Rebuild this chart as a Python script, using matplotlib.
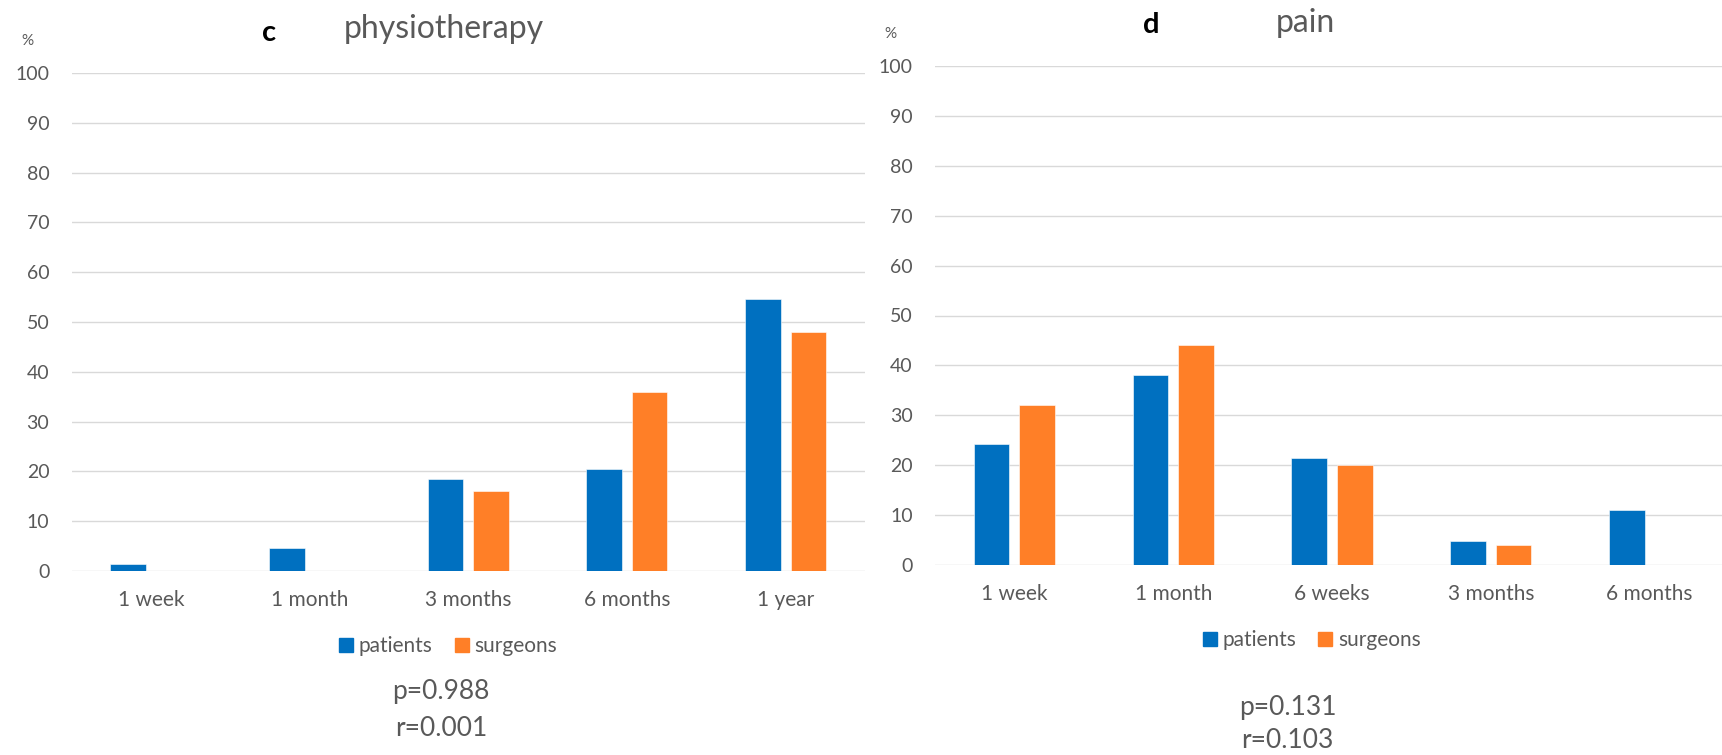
import matplotlib
matplotlib.use('Agg')
import matplotlib.pyplot as plt
import numpy as np
from matplotlib.lines import Line2D

plt.rcParams['font.family'] = ['Lato', 'DejaVu Sans']

# panel c: physiotherapy
physio_labels = ['1 week', '1 month', '3 months', '6 months', '1 year']
physio_patients = [1.5, 4.7, 18.4, 20.4, 54.6]
physio_surgeons = [0, 0, 16, 36, 48]

# panel d: pain
pain_labels = ['1 week', '1 month', '6 weeks', '3 months', '6 months']
pain_patients = [24.2, 38, 21.4, 4.8, 11]
pain_surgeons = [32, 44, 20, 4, 0]

BLUE = '#0070C0'
ORANGE = '#FF7F27'
GRID = '#D9D9D9'
TXT = '#595959'

W, H = 1722, 755
fig = plt.figure(figsize=(W / 100, H / 100), dpi=100)


def px_box(x0, x1, y_top, y_bot):
    # pixel rectangle -> figure fraction
    return [x0 / W, 1 - y_bot / H, (x1 - x0) / W, (y_bot - y_top) / H]


def draw_panel(ax, labels, pat, sur):
    x = np.arange(len(labels))
    bw = 0.224
    off = 0.1435
    ax.bar(x - off, pat, bw, color=BLUE, edgecolor='white', linewidth=0.4, zorder=3)
    ax.bar(x + off, sur, bw, color=ORANGE, edgecolor='white', linewidth=0.4, zorder=3)
    ax.set_xlim(-0.5, len(labels) - 0.5)
    ax.set_ylim(0, 100)
    ax.set_yticks(np.arange(0, 101, 10))
    ax.set_xticks(x)
    ax.set_xticklabels(labels)
    ax.yaxis.grid(True, color=GRID, linewidth=1.0, zorder=0)
    ax.set_axisbelow(True)
    for s in ['top', 'right', 'left', 'bottom']:
        ax.spines[s].set_visible(False)
    ax.tick_params(axis='y', length=0, pad=16, labelsize=14, labelcolor=TXT)
    ax.tick_params(axis='x', length=0, pad=14, labelsize=15, labelcolor=TXT)
    # square legend keys
    handles = [Line2D([], [], marker='s', linestyle='', color=c, markersize=9.5, label=l)
               for c, l in [(BLUE, 'patients'), (ORANGE, 'surgeons')]]
    ax.legend(handles=handles, loc='center', bbox_to_anchor=(0.475, -0.151), ncol=2,
              frameon=False, fontsize=15, labelcolor=TXT, handlelength=0.6,
              handletextpad=0.3, columnspacing=1.1)


ax1 = fig.add_axes(px_box(71.5, 865, 73, 571))
draw_panel(ax1, physio_labels, physio_patients, physio_surgeons)

ax2 = fig.add_axes(px_box(935, 1729, 66, 565))
draw_panel(ax2, pain_labels, pain_patients, pain_surgeons)


def ftext(x, y, s, **kw):
    fig.text(x / W, 1 - y / H, s, **kw)


# titles and panel letters
ftext(269, 41, 'c', fontsize=21, fontweight='bold', color='black', ha='center', va='baseline')
ftext(444, 38, 'physiotherapy', fontsize=23, color=TXT, ha='center', va='baseline')
ftext(1151, 33, 'd', fontsize=21, fontweight='bold', color='black', ha='center', va='baseline')
ftext(1305, 32, 'pain', fontsize=23, color=TXT, ha='center', va='baseline')

# unit labels
ftext(27, 45, '%', fontsize=11, color=TXT, ha='center', va='baseline')
ftext(890, 38, '%', fontsize=11, color=TXT, ha='center', va='baseline')

# statistics
ftext(441, 692, 'p=0.988', fontsize=19, color=TXT, ha='center', va='center')
ftext(441, 728, 'r=0.001', fontsize=19, color=TXT, ha='center', va='center')
ftext(1288, 707, 'p=0.131', fontsize=19, color=TXT, ha='center', va='center')
ftext(1287, 740, 'r=0.103', fontsize=19, color=TXT, ha='center', va='center')

fig.savefig('out.png', dpi=100)
